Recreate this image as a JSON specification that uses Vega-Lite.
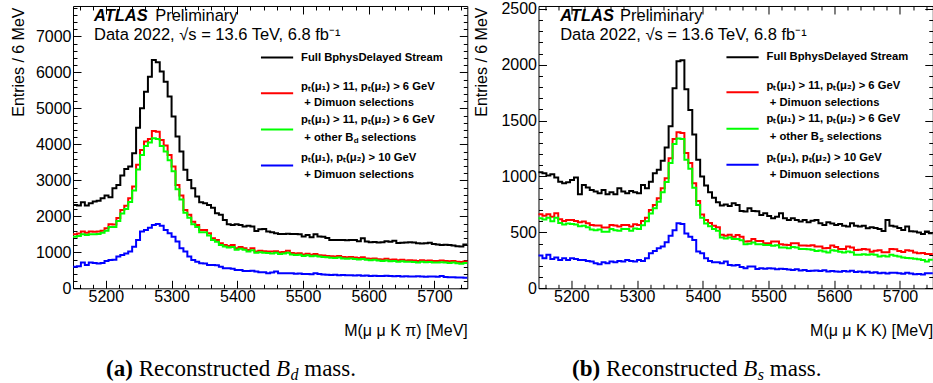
{
"$schema": "https://vega.github.io/schema/vega-lite/v6.json",
"padding": {"left": 9, "top": 0, "right": 0, "bottom": 0},
"background": "white",
"config": {
 "font": "Liberation Sans",
 "view": {"stroke": "#000", "strokeWidth": 1},
 "axis": {"grid": false, "domain": false, "tickColor": "#000", "tickWidth": 1, "labelColor": "#000", "titleColor": "#000", "labelFont": "Liberation Sans", "titleFont": "Liberation Sans", "labelFontSize": 16, "titleFontSize": 16, "titleFontWeight": "normal", "labelFlush": false, "labelOverlap": false, "labelBound": false},
 "text": {"font": "Liberation Sans", "color": "#000"}
},
"resolve": {"scale": {"x": "independent", "y": "independent"}},
"spacing": 70.5,
"bounds": "flush",
"datasets": {
"bd": [
{"m":5150,"k":2315,"r":1500,"g":1430,"b":600},{"m":5156,"k":2300,"r":1520,"g":1450,"b":610},{"m":5162,"k":2390,"r":1575,"g":1500,"b":720},{"m":5168,"k":2300,"r":1540,"g":1480,"b":650},{"m":5174,"k":2360,"r":1575,"g":1500,"b":720},{"m":5180,"k":2410,"r":1570,"g":1500,"b":700},{"m":5186,"k":2435,"r":1580,"g":1510,"b":690},{"m":5192,"k":2500,"r":1600,"g":1540,"b":700},{"m":5198,"k":2575,"r":1670,"g":1600,"b":760},{"m":5204,"k":2530,"r":1780,"g":1700,"b":785},
{"m":5210,"k":2780,"r":1770,"g":1700,"b":790},{"m":5216,"k":2870,"r":1950,"g":1870,"b":880},{"m":5222,"k":3130,"r":2175,"g":2080,"b":925},{"m":5228,"k":3315,"r":2290,"g":2200,"b":970},{"m":5234,"k":3380,"r":2500,"g":2400,"b":1020},{"m":5240,"k":3750,"r":2825,"g":2720,"b":1157},{"m":5246,"k":4460,"r":3430,"g":3300,"b":1343},{"m":5252,"k":5000,"r":3845,"g":3700,"b":1575},{"m":5258,"k":5460,"r":4075,"g":3950,"b":1620},{"m":5264,"k":5880,"r":4150,"g":4050,"b":1685},
{"m":5270,"k":6340,"r":4370,"g":4170,"b":1760},{"m":5276,"k":6280,"r":4350,"g":4150,"b":1787},{"m":5282,"k":6020,"r":4120,"g":3950,"b":1740},{"m":5288,"k":5740,"r":3965,"g":3800,"b":1620},{"m":5294,"k":5325,"r":3705,"g":3560,"b":1530},{"m":5300,"k":4770,"r":3380,"g":3250,"b":1435},{"m":5306,"k":4215,"r":2870,"g":2750,"b":1297},{"m":5312,"k":3800,"r":2575,"g":2470,"b":1112},{"m":5318,"k":3290,"r":2175,"g":2100,"b":1020},{"m":5324,"k":3010,"r":2040,"g":1960,"b":880},
{"m":5330,"k":2780,"r":1850,"g":1780,"b":787},{"m":5336,"k":2550,"r":1760,"g":1700,"b":740},{"m":5342,"k":2390,"r":1620,"g":1560,"b":695},{"m":5348,"k":2360,"r":1620,"g":1560,"b":690},{"m":5354,"k":2315,"r":1530,"g":1470,"b":650},{"m":5360,"k":2240,"r":1390,"g":1340,"b":650},{"m":5366,"k":2085,"r":1345,"g":1290,"b":640},{"m":5372,"k":2040,"r":1250,"g":1200,"b":600},{"m":5378,"k":1900,"r":1205,"g":1160,"b":560},{"m":5384,"k":1780,"r":1177,"g":1130,"b":556},
{"m":5390,"k":1760,"r":1200,"g":1150,"b":540},{"m":5396,"k":1780,"r":1112,"g":1070,"b":510},{"m":5402,"k":1760,"r":1150,"g":1100,"b":505},{"m":5408,"k":1715,"r":1112,"g":1070,"b":480},{"m":5414,"k":1740,"r":1065,"g":1025,"b":480},{"m":5420,"k":1715,"r":1110,"g":1060,"b":490},{"m":5426,"k":1595,"r":1020,"g":985,"b":470},{"m":5432,"k":1640,"r":1040,"g":1000,"b":445},{"m":5438,"k":1650,"r":1030,"g":990,"b":445},{"m":5444,"k":1575,"r":1020,"g":980,"b":420},
{"m":5450,"k":1560,"r":1020,"g":970,"b":436},{"m":5456,"k":1530,"r":1030,"g":985,"b":470},{"m":5462,"k":1510,"r":1000,"g":955,"b":420},{"m":5468,"k":1510,"r":1010,"g":965,"b":418},{"m":5474,"k":1515,"r":1040,"g":990,"b":420},{"m":5480,"k":1505,"r":980,"g":940,"b":415},{"m":5486,"k":1510,"r":970,"g":925,"b":405},{"m":5492,"k":1500,"r":975,"g":930,"b":410},{"m":5498,"k":1437,"r":940,"g":900,"b":400},{"m":5504,"k":1480,"r":960,"g":915,"b":395},
{"m":5510,"k":1420,"r":930,"g":890,"b":390},{"m":5516,"k":1500,"r":950,"g":905,"b":420},{"m":5522,"k":1440,"r":920,"g":880,"b":395},{"m":5528,"k":1435,"r":910,"g":870,"b":380},{"m":5534,"k":1400,"r":900,"g":860,"b":375},{"m":5540,"k":1345,"r":890,"g":850,"b":370},{"m":5546,"k":1340,"r":880,"g":840,"b":375},{"m":5552,"k":1345,"r":900,"g":855,"b":365},{"m":5558,"k":1340,"r":870,"g":830,"b":370},{"m":5564,"k":1335,"r":860,"g":820,"b":360},
{"m":5570,"k":1345,"r":870,"g":830,"b":365},{"m":5576,"k":1340,"r":855,"g":815,"b":355},{"m":5582,"k":1310,"r":840,"g":800,"b":360},{"m":5588,"k":1390,"r":860,"g":815,"b":350},{"m":5594,"k":1300,"r":830,"g":790,"b":355},{"m":5600,"k":1280,"r":820,"g":780,"b":345},{"m":5606,"k":1285,"r":830,"g":790,"b":350},{"m":5612,"k":1275,"r":810,"g":770,"b":345},{"m":5618,"k":1280,"r":800,"g":760,"b":340},{"m":5624,"k":1310,"r":820,"g":775,"b":350},
{"m":5630,"k":1290,"r":790,"g":750,"b":345},{"m":5636,"k":1320,"r":800,"g":760,"b":335},{"m":5642,"k":1260,"r":780,"g":740,"b":340},{"m":5648,"k":1265,"r":790,"g":750,"b":330},{"m":5654,"k":1270,"r":775,"g":735,"b":335},{"m":5660,"k":1280,"r":780,"g":740,"b":330},{"m":5666,"k":1275,"r":770,"g":730,"b":325},{"m":5672,"k":1250,"r":760,"g":720,"b":335},{"m":5678,"k":1245,"r":780,"g":735,"b":330},{"m":5684,"k":1250,"r":765,"g":725,"b":320},
{"m":5690,"k":1265,"r":770,"g":730,"b":330},{"m":5696,"k":1230,"r":760,"g":720,"b":325},{"m":5702,"k":1215,"r":755,"g":715,"b":320},{"m":5708,"k":1205,"r":770,"g":725,"b":340},{"m":5714,"k":1210,"r":760,"g":715,"b":315},{"m":5720,"k":1200,"r":750,"g":705,"b":310},{"m":5726,"k":1190,"r":760,"g":715,"b":305},{"m":5732,"k":1170,"r":740,"g":695,"b":300},{"m":5738,"k":1160,"r":730,"g":680,"b":300},{"m":5744,"k":1215,"r":745,"g":700,"b":295},
{"m":5750,"k":1215,"r":745,"g":700,"b":295}
],
"bs": [
{"m":5150,"k":1038,"r":662,"g":626,"b":293},{"m":5156,"k":1029,"r":650,"g":615,"b":269},{"m":5162,"k":1008,"r":662,"g":630,"b":299},{"m":5168,"k":1020,"r":641,"g":600,"b":263},{"m":5174,"k":990,"r":671,"g":630,"b":275},{"m":5180,"k":954,"r":618,"g":585,"b":254},{"m":5186,"k":939,"r":603,"g":570,"b":269},{"m":5192,"k":948,"r":612,"g":580,"b":254},{"m":5198,"k":969,"r":612,"g":575,"b":269},{"m":5204,"k":990,"r":603,"g":570,"b":263},
{"m":5210,"k":841,"r":591,"g":555,"b":254},{"m":5216,"k":925,"r":597,"g":560,"b":254},{"m":5222,"k":901,"r":582,"g":545,"b":245},{"m":5228,"k":880,"r":567,"g":525,"b":239},{"m":5234,"k":865,"r":561,"g":520,"b":224},{"m":5240,"k":850,"r":561,"g":525,"b":215},{"m":5246,"k":880,"r":543,"g":505,"b":233},{"m":5252,"k":841,"r":543,"g":505,"b":224},{"m":5258,"k":859,"r":567,"g":530,"b":239},{"m":5264,"k":841,"r":561,"g":520,"b":233},
{"m":5270,"k":895,"r":552,"g":515,"b":245},{"m":5276,"k":865,"r":567,"g":530,"b":239},{"m":5282,"k":850,"r":567,"g":530,"b":254},{"m":5288,"k":871,"r":552,"g":515,"b":245},{"m":5294,"k":859,"r":573,"g":535,"b":239},{"m":5300,"k":850,"r":567,"g":530,"b":254},{"m":5306,"k":925,"r":603,"g":565,"b":245},{"m":5312,"k":895,"r":632,"g":600,"b":269},{"m":5318,"k":954,"r":701,"g":670,"b":313},{"m":5324,"k":1029,"r":746,"g":715,"b":334},
{"m":5330,"k":1060,"r":805,"g":775,"b":358},{"m":5336,"k":1140,"r":895,"g":860,"b":373},{"m":5342,"k":1260,"r":984,"g":950,"b":412},{"m":5348,"k":1450,"r":1163,"g":1120,"b":470},{"m":5354,"k":1790,"r":1336,"g":1290,"b":520},{"m":5360,"k":2030,"r":1396,"g":1340,"b":582},{"m":5366,"k":2040,"r":1390,"g":1335,"b":575},{"m":5372,"k":1780,"r":1210,"g":1150,"b":490},{"m":5378,"k":1595,"r":1120,"g":1070,"b":462},{"m":5384,"k":1375,"r":940,"g":900,"b":433},
{"m":5390,"k":1150,"r":780,"g":745,"b":330},{"m":5396,"k":1000,"r":660,"g":630,"b":313},{"m":5402,"k":920,"r":610,"g":580,"b":269},{"m":5408,"k":860,"r":585,"g":555,"b":245},{"m":5414,"k":810,"r":560,"g":530,"b":233},{"m":5420,"k":770,"r":545,"g":515,"b":233},{"m":5426,"k":740,"r":480,"g":455,"b":224},{"m":5432,"k":750,"r":470,"g":445,"b":239},{"m":5438,"k":735,"r":480,"g":455,"b":209},{"m":5444,"k":760,"r":462,"g":440,"b":205},
{"m":5450,"k":746,"r":477,"g":442,"b":209},{"m":5456,"k":692,"r":460,"g":430,"b":190},{"m":5462,"k":686,"r":418,"g":395,"b":179},{"m":5468,"k":716,"r":420,"g":398,"b":194},{"m":5474,"k":692,"r":442,"g":410,"b":194},{"m":5480,"k":690,"r":424,"g":394,"b":173},{"m":5486,"k":656,"r":424,"g":394,"b":180},{"m":5492,"k":671,"r":403,"g":388,"b":175},{"m":5498,"k":647,"r":403,"g":388,"b":180},{"m":5504,"k":626,"r":418,"g":380,"b":176},
{"m":5510,"k":640,"r":418,"g":385,"b":170},{"m":5516,"k":671,"r":394,"g":364,"b":175},{"m":5522,"k":626,"r":390,"g":365,"b":172},{"m":5528,"k":612,"r":388,"g":358,"b":168},{"m":5534,"k":626,"r":403,"g":370,"b":164},{"m":5540,"k":612,"r":403,"g":365,"b":170},{"m":5546,"k":597,"r":382,"g":352,"b":160},{"m":5552,"k":612,"r":382,"g":352,"b":164},{"m":5558,"k":591,"r":380,"g":350,"b":155},{"m":5564,"k":605,"r":385,"g":345,"b":158},
{"m":5570,"k":612,"r":373,"g":334,"b":160},{"m":5576,"k":582,"r":373,"g":338,"b":155},{"m":5582,"k":567,"r":358,"g":330,"b":162},{"m":5588,"k":591,"r":360,"g":320,"b":150},{"m":5594,"k":580,"r":382,"g":340,"b":155},{"m":5600,"k":567,"r":370,"g":335,"b":150},{"m":5606,"k":575,"r":352,"g":328,"b":148},{"m":5612,"k":560,"r":352,"g":320,"b":155},{"m":5618,"k":552,"r":373,"g":330,"b":150},{"m":5624,"k":582,"r":365,"g":322,"b":158},
{"m":5630,"k":560,"r":343,"g":300,"b":145},{"m":5636,"k":552,"r":345,"g":299,"b":150},{"m":5642,"k":560,"r":352,"g":305,"b":143},{"m":5648,"k":537,"r":348,"g":300,"b":148},{"m":5654,"k":545,"r":328,"g":305,"b":140},{"m":5660,"k":540,"r":335,"g":300,"b":143},{"m":5666,"k":530,"r":340,"g":284,"b":135},{"m":5672,"k":513,"r":323,"g":290,"b":140},{"m":5678,"k":612,"r":323,"g":284,"b":132},{"m":5684,"k":560,"r":352,"g":300,"b":138},
{"m":5690,"k":552,"r":350,"g":290,"b":140},{"m":5696,"k":540,"r":334,"g":284,"b":135},{"m":5702,"k":522,"r":325,"g":275,"b":130},{"m":5708,"k":552,"r":340,"g":270,"b":138},{"m":5714,"k":510,"r":335,"g":269,"b":132},{"m":5720,"k":507,"r":320,"g":265,"b":126},{"m":5726,"k":500,"r":313,"g":260,"b":128},{"m":5732,"k":485,"r":315,"g":254,"b":124},{"m":5738,"k":507,"r":307,"g":239,"b":135},{"m":5744,"k":492,"r":307,"g":255,"b":135},
{"m":5750,"k":492,"r":307,"g":255,"b":135}
]
},
"hconcat": [
{
 "width": 394.3, "height": 282.3,
 "data": {"values": [{}]},
 "resolve": {"axis": {"x": "independent", "y": "independent"}},
 "layer": [
   {"data": {"name": "bd"},
    "transform": [{"fold": ["k","r","g","b"], "as": ["s","v"]}],
    "mark": {"type": "line", "interpolate": "step-after", "strokeWidth": 2},
    "encoding": {
     "x": {"field": "m", "type": "quantitative", "scale": {"domain": [5150,5750], "nice": false, "zero": false},
       "axis": {"orient": "bottom", "values": [5200,5300,5400,5500,5600,5700], "format": "d", "labelOverlap": false, "tickSize": -8, "labelPadding": 8, "title": "M(μ μ K π) [MeV]", "titleX": 394.3, "titleY": 42, "titleAlign": "right", "titleBaseline": "middle"}},
     "y": {"field": "v", "type": "quantitative", "scale": {"domain": [0,7842], "nice": false},
       "axis": {"orient": "left", "values": [0,1000,2000,3000,4000,5000,6000,7000], "format": "d", "labelOverlap": false, "tickSize": -8, "labelPadding": 10, "title": "Entries / 6 MeV", "titleX": -55, "titleY": 1, "titleAlign": "right", "titleBaseline": "middle", "titleAngle": -90}},
     "color": {"field": "s", "type": "nominal", "scale": {"domain": ["k","r","g","b"], "range": ["#000000","#ff0000","#00ff00","#0000ff"]}, "legend": null}
    }},
   {"mark": {"type": "point", "opacity": 0},
    "encoding": {
     "x": {"datum": 5150, "type": "quantitative", "axis": {"orient": "bottom", "values": [5160,5180,5220,5240,5260,5280,5320,5340,5360,5380,5420,5440,5460,5480,5520,5540,5560,5580,5620,5640,5660,5680,5720,5740], "labels": false, "title": null, "tickSize": -4}},
     "y": {"datum": 0, "type": "quantitative", "axis": {"orient": "left", "values": [200,400,600,800,1200,1400,1600,1800,2200,2400,2600,2800,3200,3400,3600,3800,4200,4400,4600,4800,5200,5400,5600,5800,6200,6400,6600,6800,7200,7400,7600,7800], "labels": false, "title": null, "tickSize": -4}}
    }},
   {"mark": {"type": "point", "opacity": 0},
    "encoding": {
     "x": {"datum": 5150, "type": "quantitative", "axis": {"orient": "top", "values": [5200,5300,5400,5500,5600,5700], "labels": false, "title": null, "tickSize": -8}},
     "y": {"datum": 0, "type": "quantitative", "axis": {"orient": "right", "values": [0,1000,2000,3000,4000,5000,6000,7000], "labels": false, "title": null, "tickSize": -8}}
    }},
   {"mark": {"type": "point", "opacity": 0},
    "encoding": {
     "x": {"datum": 5150, "type": "quantitative", "axis": {"orient": "top", "values": [5160,5180,5220,5240,5260,5280,5320,5340,5360,5380,5420,5440,5460,5480,5520,5540,5560,5580,5620,5640,5660,5680,5720,5740], "labels": false, "title": null, "tickSize": -4}},
     "y": {"datum": 0, "type": "quantitative", "axis": {"orient": "right", "values": [200,400,600,800,1200,1400,1600,1800,2200,2400,2600,2800,3200,3400,3600,3800,4200,4400,4600,4800,5200,5400,5600,5800,6200,6400,6600,6800,7200,7400,7600,7800], "labels": false, "title": null, "tickSize": -4}}
    }},
   {"mark": {"type": "text", "align": "left", "baseline": "middle", "fontSize": 16.5, "fontWeight": "bold", "fontStyle": "italic"}, "encoding": {"x": {"datum": 5182, "axis": null}, "y": {"datum": 7575, "axis": null}, "text": {"value": "ATLAS"}}},
   {"mark": {"type": "text", "align": "left", "baseline": "middle", "fontSize": 16.5}, "encoding": {"x": {"datum": 5275, "axis": null}, "y": {"datum": 7575, "axis": null}, "text": {"value": "Preliminary"}}},
   {"mark": {"type": "text", "align": "left", "baseline": "middle", "fontSize": 16.5}, "encoding": {"x": {"datum": 5182, "axis": null}, "y": {"datum": 7047, "axis": null}, "text": {"value": "Data 2022, √s = 13.6 TeV, 6.8 fb⁻¹"}}},
   {"mark": {"type": "rule", "color": "#000000", "strokeWidth": 2}, "encoding": {"x": {"datum": 5436, "axis": null}, "x2": {"datum": 5485}, "y": {"datum": 6408, "axis": null}}},
   {"mark": {"type": "rule", "color": "#ff0000", "strokeWidth": 2}, "encoding": {"x": {"datum": 5436, "axis": null}, "x2": {"datum": 5485}, "y": {"datum": 5417, "axis": null}}},
   {"mark": {"type": "rule", "color": "#00ff00", "strokeWidth": 2}, "encoding": {"x": {"datum": 5436, "axis": null}, "x2": {"datum": 5485}, "y": {"datum": 4408, "axis": null}}},
   {"mark": {"type": "rule", "color": "#0000ff", "strokeWidth": 2}, "encoding": {"x": {"datum": 5436, "axis": null}, "x2": {"datum": 5485}, "y": {"datum": 3408, "axis": null}}},
   {"mark": {"type": "text", "align": "left", "baseline": "middle", "fontSize": 11.25, "fontWeight": "bold"}, "encoding": {"x": {"datum": 5497, "axis": null}, "y": {"datum": 6408, "axis": null}, "text": {"value": "Full BphysDelayed Stream"}}},
   {"mark": {"type": "text", "align": "left", "baseline": "middle", "fontSize": 11.25, "fontWeight": "bold"}, "encoding": {"x": {"datum": 5497, "axis": null}, "y": {"datum": 5603, "axis": null}, "text": {"value": "pₜ(μ₁) > 11, pₜ(μ₂) > 6 GeV"}}},
   {"mark": {"type": "text", "align": "left", "baseline": "middle", "fontSize": 11.25, "fontWeight": "bold"}, "encoding": {"x": {"datum": 5502, "axis": null}, "y": {"datum": 5158, "axis": null}, "text": {"value": "+ Dimuon selections"}}},
   {"mark": {"type": "text", "align": "left", "baseline": "middle", "fontSize": 11.25, "fontWeight": "bold"}, "encoding": {"x": {"datum": 5497, "axis": null}, "y": {"datum": 4686, "axis": null}, "text": {"value": "pₜ(μ₁) > 11, pₜ(μ₂) > 6 GeV"}}},
   {"mark": {"type": "text", "align": "left", "baseline": "middle", "fontSize": 11.25, "fontWeight": "bold"}, "encoding": {"x": {"datum": 5502, "axis": null}, "y": {"datum": 4186, "axis": null}, "text": {"value": "+ other B"}}},
   {"mark": {"type": "text", "align": "left", "baseline": "middle", "fontSize": 8, "fontWeight": "bold", "dx": 49.5, "dy": 3}, "encoding": {"x": {"datum": 5502, "axis": null}, "y": {"datum": 4186, "axis": null}, "text": {"value": "d"}}},
   {"mark": {"type": "text", "align": "left", "baseline": "middle", "fontSize": 11.25, "fontWeight": "bold", "dx": 57}, "encoding": {"x": {"datum": 5502, "axis": null}, "y": {"datum": 4186, "axis": null}, "text": {"value": "selections"}}},
   {"mark": {"type": "text", "align": "left", "baseline": "middle", "fontSize": 11.25, "fontWeight": "bold"}, "encoding": {"x": {"datum": 5497, "axis": null}, "y": {"datum": 3631, "axis": null}, "text": {"value": "pₜ(μ₁), pₜ(μ₂) > 10 GeV"}}},
   {"mark": {"type": "text", "align": "left", "baseline": "middle", "fontSize": 11.25, "fontWeight": "bold"}, "encoding": {"x": {"datum": 5502, "axis": null}, "y": {"datum": 3158, "axis": null}, "text": {"value": "+ Dimuon selections"}}},
   {"mark": {"type": "text", "align": "left", "baseline": "middle", "fontSize": 23, "fontWeight": "bold", "font": "Liberation Serif"}, "encoding": {"x": {"datum": 5200.3, "axis": null}, "y": {"datum": -2231, "axis": null}, "text": {"value": "(a)"}}},
   {"mark": {"type": "text", "align": "left", "baseline": "middle", "fontSize": 23, "font": "Liberation Serif", "dx": 32.6}, "encoding": {"x": {"datum": 5200.3, "axis": null}, "y": {"datum": -2231, "axis": null}, "text": {"value": "Reconstructed"}}},
   {"mark": {"type": "text", "align": "left", "baseline": "middle", "fontSize": 23, "fontStyle": "italic", "font": "Liberation Serif", "dx": 170}, "encoding": {"x": {"datum": 5200.3, "axis": null}, "y": {"datum": -2231, "axis": null}, "text": {"value": "B"}}},
   {"mark": {"type": "text", "align": "left", "baseline": "middle", "fontSize": 16, "fontStyle": "italic", "font": "Liberation Serif", "dx": 184.5, "dy": 6}, "encoding": {"x": {"datum": 5200.3, "axis": null}, "y": {"datum": -2231, "axis": null}, "text": {"value": "d"}}},
   {"mark": {"type": "text", "align": "left", "baseline": "middle", "fontSize": 23, "font": "Liberation Serif", "dx": 198.2}, "encoding": {"x": {"datum": 5200.3, "axis": null}, "y": {"datum": -2231, "axis": null}, "text": {"value": "mass."}}}
 ]
},
{
 "width": 394.3, "height": 282.3,
 "data": {"values": [{}]},
 "resolve": {"axis": {"x": "independent", "y": "independent"}},
 "layer": [
   {"data": {"name": "bs"},
    "transform": [{"fold": ["k","r","g","b"], "as": ["s","v"]}],
    "mark": {"type": "line", "interpolate": "step-after", "strokeWidth": 2},
    "encoding": {
     "x": {"field": "m", "type": "quantitative", "scale": {"domain": [5150,5750], "nice": false, "zero": false},
       "axis": {"orient": "bottom", "values": [5200,5300,5400,5500,5600,5700], "format": "d", "labelOverlap": false, "tickSize": -8, "labelPadding": 8, "title": "M(μ μ K K) [MeV]", "titleX": 394.3, "titleY": 42, "titleAlign": "right", "titleBaseline": "middle"}},
     "y": {"field": "v", "type": "quantitative", "scale": {"domain": [0,2525], "nice": false},
       "axis": {"orient": "left", "values": [0,500,1000,1500,2000,2500], "format": "d", "labelOverlap": false, "tickSize": -8, "labelPadding": 10, "title": "Entries / 6 MeV", "titleX": -56.5, "titleY": 1, "titleAlign": "right", "titleBaseline": "middle", "titleAngle": -90}},
     "color": {"field": "s", "type": "nominal", "scale": {"domain": ["k","r","g","b"], "range": ["#000000","#ff0000","#00ff00","#0000ff"]}, "legend": null}
    }},
   {"mark": {"type": "point", "opacity": 0},
    "encoding": {
     "x": {"datum": 5150, "type": "quantitative", "axis": {"orient": "bottom", "values": [5160,5180,5220,5240,5260,5280,5320,5340,5360,5380,5420,5440,5460,5480,5520,5540,5560,5580,5620,5640,5660,5680,5720,5740], "labels": false, "title": null, "tickSize": -4}},
     "y": {"datum": 0, "type": "quantitative", "axis": {"orient": "left", "values": [100,200,300,400,600,700,800,900,1100,1200,1300,1400,1600,1700,1800,1900,2100,2200,2300,2400], "labels": false, "title": null, "tickSize": -4}}
    }},
   {"mark": {"type": "point", "opacity": 0},
    "encoding": {
     "x": {"datum": 5150, "type": "quantitative", "axis": {"orient": "top", "values": [5200,5300,5400,5500,5600,5700], "labels": false, "title": null, "tickSize": -8}},
     "y": {"datum": 0, "type": "quantitative", "axis": {"orient": "right", "values": [0,500,1000,1500,2000,2500], "labels": false, "title": null, "tickSize": -8}}
    }},
   {"mark": {"type": "point", "opacity": 0},
    "encoding": {
     "x": {"datum": 5150, "type": "quantitative", "axis": {"orient": "top", "values": [5160,5180,5220,5240,5260,5280,5320,5340,5360,5380,5420,5440,5460,5480,5520,5540,5560,5580,5620,5640,5660,5680,5720,5740], "labels": false, "title": null, "tickSize": -4}},
     "y": {"datum": 0, "type": "quantitative", "axis": {"orient": "right", "values": [100,200,300,400,600,700,800,900,1100,1200,1300,1400,1600,1700,1800,1900,2100,2200,2300,2400], "labels": false, "title": null, "tickSize": -4}}
    }},
   {"mark": {"type": "text", "align": "left", "baseline": "middle", "fontSize": 16.5, "fontWeight": "bold", "fontStyle": "italic"}, "encoding": {"x": {"datum": 5183, "axis": null}, "y": {"datum": 2439, "axis": null}, "text": {"value": "ATLAS"}}},
   {"mark": {"type": "text", "align": "left", "baseline": "middle", "fontSize": 16.5}, "encoding": {"x": {"datum": 5274, "axis": null}, "y": {"datum": 2439, "axis": null}, "text": {"value": "Preliminary"}}},
   {"mark": {"type": "text", "align": "left", "baseline": "middle", "fontSize": 16.5}, "encoding": {"x": {"datum": 5183, "axis": null}, "y": {"datum": 2269, "axis": null}, "text": {"value": "Data 2022, √s = 13.6 TeV, 6.8 fb⁻¹"}}},
   {"mark": {"type": "rule", "color": "#000000", "strokeWidth": 2}, "encoding": {"x": {"datum": 5436, "axis": null}, "x2": {"datum": 5485}, "y": {"datum": 2066, "axis": null}}},
   {"mark": {"type": "rule", "color": "#ff0000", "strokeWidth": 2}, "encoding": {"x": {"datum": 5436, "axis": null}, "x2": {"datum": 5485}, "y": {"datum": 1753, "axis": null}}},
   {"mark": {"type": "rule", "color": "#00ff00", "strokeWidth": 2}, "encoding": {"x": {"datum": 5436, "axis": null}, "x2": {"datum": 5485}, "y": {"datum": 1426, "axis": null}}},
   {"mark": {"type": "rule", "color": "#0000ff", "strokeWidth": 2}, "encoding": {"x": {"datum": 5436, "axis": null}, "x2": {"datum": 5485}, "y": {"datum": 1104, "axis": null}}},
   {"mark": {"type": "text", "align": "left", "baseline": "middle", "fontSize": 11.25, "fontWeight": "bold"}, "encoding": {"x": {"datum": 5497, "axis": null}, "y": {"datum": 2066, "axis": null}, "text": {"value": "Full BphysDelayed Stream"}}},
   {"mark": {"type": "text", "align": "left", "baseline": "middle", "fontSize": 11.25, "fontWeight": "bold"}, "encoding": {"x": {"datum": 5497, "axis": null}, "y": {"datum": 1813, "axis": null}, "text": {"value": "pₜ(μ₁) > 11, pₜ(μ₂) > 6 GeV"}}},
   {"mark": {"type": "text", "align": "left", "baseline": "middle", "fontSize": 11.25, "fontWeight": "bold"}, "encoding": {"x": {"datum": 5502, "axis": null}, "y": {"datum": 1661, "axis": null}, "text": {"value": "+ Dimuon selections"}}},
   {"mark": {"type": "text", "align": "left", "baseline": "middle", "fontSize": 11.25, "fontWeight": "bold"}, "encoding": {"x": {"datum": 5497, "axis": null}, "y": {"datum": 1515, "axis": null}, "text": {"value": "pₜ(μ₁) > 11, pₜ(μ₂) > 6 GeV"}}},
   {"mark": {"type": "text", "align": "left", "baseline": "middle", "fontSize": 11.25, "fontWeight": "bold"}, "encoding": {"x": {"datum": 5502, "axis": null}, "y": {"datum": 1351, "axis": null}, "text": {"value": "+ other B"}}},
   {"mark": {"type": "text", "align": "left", "baseline": "middle", "fontSize": 8, "fontWeight": "bold", "dx": 49.5, "dy": 3}, "encoding": {"x": {"datum": 5502, "axis": null}, "y": {"datum": 1351, "axis": null}, "text": {"value": "s"}}},
   {"mark": {"type": "text", "align": "left", "baseline": "middle", "fontSize": 11.25, "fontWeight": "bold", "dx": 57}, "encoding": {"x": {"datum": 5502, "axis": null}, "y": {"datum": 1351, "axis": null}, "text": {"value": "selections"}}},
   {"mark": {"type": "text", "align": "left", "baseline": "middle", "fontSize": 11.25, "fontWeight": "bold"}, "encoding": {"x": {"datum": 5497, "axis": null}, "y": {"datum": 1169, "axis": null}, "text": {"value": "pₜ(μ₁), pₜ(μ₂) > 10 GeV"}}},
   {"mark": {"type": "text", "align": "left", "baseline": "middle", "fontSize": 11.25, "fontWeight": "bold"}, "encoding": {"x": {"datum": 5502, "axis": null}, "y": {"datum": 1014, "axis": null}, "text": {"value": "+ Dimuon selections"}}},
   {"mark": {"type": "text", "align": "left", "baseline": "middle", "fontSize": 23, "fontWeight": "bold", "font": "Liberation Serif"}, "encoding": {"x": {"datum": 5201, "axis": null}, "y": {"datum": -718, "axis": null}, "text": {"value": "(b)"}}},
   {"mark": {"type": "text", "align": "left", "baseline": "middle", "fontSize": 23, "font": "Liberation Serif", "dx": 33.9}, "encoding": {"x": {"datum": 5201, "axis": null}, "y": {"datum": -718, "axis": null}, "text": {"value": "Reconstructed"}}},
   {"mark": {"type": "text", "align": "left", "baseline": "middle", "fontSize": 23, "fontStyle": "italic", "font": "Liberation Serif", "dx": 171.3}, "encoding": {"x": {"datum": 5201, "axis": null}, "y": {"datum": -718, "axis": null}, "text": {"value": "B"}}},
   {"mark": {"type": "text", "align": "left", "baseline": "middle", "fontSize": 16, "fontStyle": "italic", "font": "Liberation Serif", "dx": 185.8, "dy": 6}, "encoding": {"x": {"datum": 5201, "axis": null}, "y": {"datum": -718, "axis": null}, "text": {"value": "s"}}},
   {"mark": {"type": "text", "align": "left", "baseline": "middle", "fontSize": 23, "font": "Liberation Serif", "dx": 197.8}, "encoding": {"x": {"datum": 5201, "axis": null}, "y": {"datum": -718, "axis": null}, "text": {"value": "mass."}}}
 ]
}
]
}
